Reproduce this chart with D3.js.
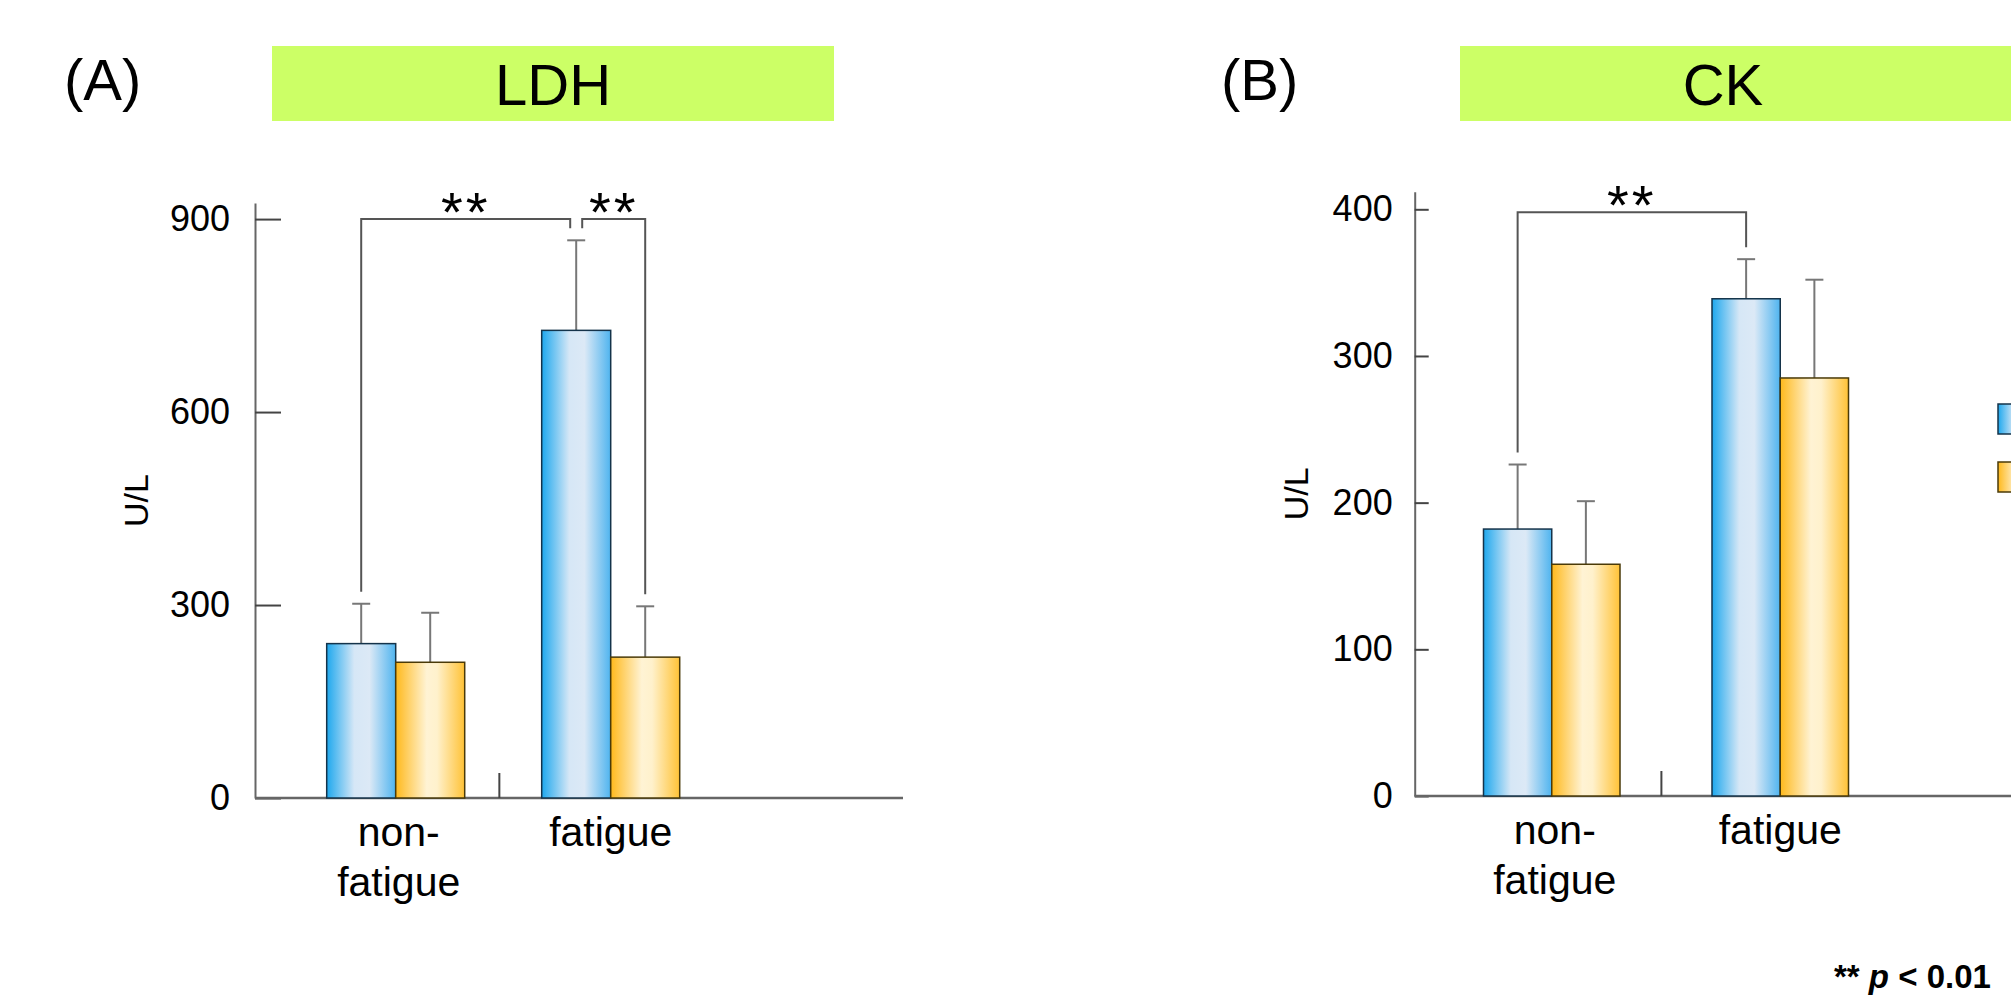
<!DOCTYPE html>
<html>
<head>
<meta charset="utf-8">
<script src="https://cdn.jsdelivr.net/npm/d3@7"></script>
<style>
body { margin: 0; background: #fff; }
svg { display: block; }
text { font-family: "Liberation Sans", Arial, sans-serif; fill: #000; }
</style>
</head>
<body>
<svg id="chart" width="2011" height="998"></svg>
<script>
var categories = ["non-fatigue", "fatigue"];
var categoryLines = [["non-", "fatigue"], ["fatigue"]];
var seriesNames = ["group 1", "group 2"];

// LDH (U/L)
var ldhBlue = [240, 727];
var ldhBlueSd = [62, 140];
var ldhOrange = [211, 219];
var ldhOrangeSd = [77, 79];
var ldhTicks = [0, 300, 600, 900];

// CK (U/L)
var ckBlue = [182, 339];
var ckBlueSd = [44, 27];
var ckOrange = [158, 285];
var ckOrangeSd = [43, 67];
var ckTicks = [0, 100, 200, 300, 400];

// significance brackets: [category index, series index]
var ldhSig = [
    { from: [0, 0], to: [1, 0], level: 900, label: "**" },
    { from: [1, 0], to: [1, 1], level: 900, label: "**" }
];
var ckSig = [
    { from: [0, 0], to: [1, 0], level: 398, label: "**" }
];

var svg = d3.select("#chart");
var defs = svg.append("defs");

function addGradient(id, stops)
{
    var g = defs.append("linearGradient").attr("id", id)
        .attr("x1", "0%").attr("x2", "100%").attr("y1", "0%").attr("y2", "0%");
    stops.forEach(function(s) {
        g.append("stop").attr("offset", s[0]).attr("stop-color", s[1]);
    });
}
addGradient("gBlue", [["0%", "#1ea8ee"], ["40%", "#d6e7f6"], ["62%", "#dce9f6"], ["100%", "#4fb4ef"]]);
addGradient("gOrange", [["0%", "#ffb91c"], ["45%", "#fff3d4"], ["60%", "#fff1cc"], ["100%", "#ffc236"]]);

var fills = ["url(#gBlue)", "url(#gOrange)"];
var strokes = ["#14334a", "#4a3a08"];

function drawPanel(p)
{
    var g = svg.append("g");

    // header
    g.append("text")
        .attr("x", p.letterX).attr("y", 100)
        .style("font-size", "58px")
        .text(p.letter);

    g.append("rect")
        .attr("x", p.boxX).attr("y", 46)
        .attr("width", p.boxW).attr("height", 75)
        .attr("fill", "#ccff66");

    g.append("text")
        .attr("x", p.titleX).attr("y", 105)
        .attr("text-anchor", "middle")
        .style("font-size", "58px")
        .text(p.title);

    // scales
    var y = d3.scaleLinear().domain([0, p.yMax]).range([p.yZero, p.yTop]);
    var x0 = d3.scaleBand()
        .domain(categories)
        .range([p.bandStart, p.bandStart + p.step * 2 - (p.step - p.bandW)])
        .paddingInner(1 - p.bandW / p.step);
    var x1 = d3.scaleBand().domain(seriesNames).range([0, x0.bandwidth()]);

    // y axis
    var yAxis = d3.axisLeft(y)
        .tickValues(p.ticks)
        .tickSize(-p.tickLen)
        .tickSizeOuter(0)
        .tickPadding(p.tickPad);

    var ya = g.append("g")
        .attr("transform", "translate(" + p.axisX + ",0)")
        .call(yAxis);
    ya.select(".domain").attr("stroke", "#666").attr("stroke-width", 2);
    ya.selectAll(".tick line").attr("stroke", "#444").attr("stroke-width", 2);
    ya.selectAll(".tick text")
        .attr("font-family", null)
        .style("font-size", "36px")
        .attr("fill", "#000");

    // x axis line
    g.append("line")
        .attr("x1", p.axisX).attr("x2", p.axisEndX)
        .attr("y1", y(0)).attr("y2", y(0))
        .attr("stroke", "#666").attr("stroke-width", 2.5);

    // separator tick between categories
    var sepX = x0(categories[0]) + x0.bandwidth() + (x0(categories[1]) - x0(categories[0]) - x0.bandwidth()) * 0.45;
    g.append("line")
        .attr("x1", sepX).attr("x2", sepX)
        .attr("y1", y(0)).attr("y2", y(0) - 25)
        .attr("stroke", "#444").attr("stroke-width", 2);

    // y title
    g.append("text")
        .attr("transform", "translate(" + p.yLabelX + "," + (y(0) + y(p.yMax)) / 2 + ") rotate(-90)")
        .attr("text-anchor", "middle")
        .style("font-size", "34px")
        .text("U/L");

    // bars
    var rows = [];
    categories.forEach(function(c, i) {
        p.series.forEach(function(s, j) {
            rows.push({ cat: c, ci: i, sj: j, mean: s.mean[i], sd: s.sd[i] });
        });
    });

    function barCenter(ci, sj)
    {
        return x0(categories[ci]) + x1(seriesNames[sj]) + x1.bandwidth() / 2;
    }

    // error bars
    g.selectAll("line.err")
        .data(rows).enter().append("line")
        .attr("class", "err")
        .attr("x1", function(d) { return barCenter(d.ci, d.sj); })
        .attr("x2", function(d) { return barCenter(d.ci, d.sj); })
        .attr("y1", function(d) { return y(d.mean); })
        .attr("y2", function(d) { return y(d.mean + d.sd); })
        .attr("stroke", "#777").attr("stroke-width", 2);

    g.selectAll("line.cap")
        .data(rows).enter().append("line")
        .attr("class", "cap")
        .attr("x1", function(d) { return barCenter(d.ci, d.sj) - 9; })
        .attr("x2", function(d) { return barCenter(d.ci, d.sj) + 9; })
        .attr("y1", function(d) { return y(d.mean + d.sd); })
        .attr("y2", function(d) { return y(d.mean + d.sd); })
        .attr("stroke", "#777").attr("stroke-width", 2);

    g.selectAll("rect.bar")
        .data(rows).enter().append("rect")
        .attr("class", "bar")
        .attr("x", function(d) { return x0(d.cat) + x1(seriesNames[d.sj]); })
        .attr("y", function(d) { return y(d.mean); })
        .attr("width", x1.bandwidth())
        .attr("height", function(d) { return y(0) - y(d.mean); })
        .attr("fill", function(d) { return fills[d.sj]; })
        .attr("stroke", function(d) { return strokes[d.sj]; })
        .attr("stroke-width", 1.5);

    // category labels
    categoryLines.forEach(function(lines, i) {
        var cx = x0(categories[i]) + x0.bandwidth() / 2 + (lines.length > 1 ? 3 : 0);
        var t = g.append("text")
            .attr("x", cx)
            .attr("y", y(0) + 48)
            .attr("text-anchor", "middle")
            .style("font-size", "41px");
        lines.forEach(function(l, k) {
            t.append("tspan")
                .attr("x", cx)
                .attr("dy", k == 0 ? 0 : 50)
                .text(l);
        });
    });

    // significance brackets
    function topOf(ref)
    {
        var s = p.series[ref[1]];
        return y(s.mean[ref[0]] + s.sd[ref[0]]) - 12;
    }
    p.sig.forEach(function(b, i) {
        var shareFrom = p.sig.some(function(o, k) { return k != i && o.to[0] == b.from[0] && o.to[1] == b.from[1]; });
        var shareTo = p.sig.some(function(o, k) { return k != i && o.from[0] == b.to[0] && o.from[1] == b.to[1]; });
        var xa = barCenter(b.from[0], b.from[1]) + (shareFrom ? 6 : 0);
        var xb = barCenter(b.to[0], b.to[1]) - (shareTo ? 6 : 0);
        var yl = y(b.level);
        g.append("path")
            .attr("d", "M" + xa + "," + topOf(b.from) + "V" + yl + "H" + xb + "V" + topOf(b.to))
            .attr("fill", "none")
            .attr("stroke", "#555").attr("stroke-width", 2);
        g.append("text")
            .attr("x", (xa + xb) / 2).attr("y", yl + 12)
            .attr("text-anchor", "middle")
            .style("font-size", "56px")
            .style("letter-spacing", "3px")
            .text(b.label);
    });

    // legend swatches (labels fall outside the picture)
    if (p.legendX)
    {
        p.series.forEach(function(s, j) {
            g.append("rect")
                .attr("x", p.legendX).attr("y", 404 + j * 58)
                .attr("width", 40).attr("height", 30)
                .attr("fill", fills[j])
                .attr("stroke", strokes[j]).attr("stroke-width", 1.5);
        });
    }
}

drawPanel({
    letter: "(A)", letterX: 64,
    title: "LDH", boxX: 272, boxW: 562, titleX: 553,
    axisX: 255, axisEndX: 903, yTop: 203, yZero: 798, yMax: 925,
    bandStart: 326.7, step: 215, bandW: 138,
    tickLen: 26, tickPad: 25, yLabelX: 148,
    ticks: ldhTicks,
    series: [{ mean: ldhBlue, sd: ldhBlueSd }, { mean: ldhOrange, sd: ldhOrangeSd }],
    sig: ldhSig
});

drawPanel({
    letter: "(B)", letterX: 1221,
    title: "CK", boxX: 1460, boxW: 600, titleX: 1723,
    axisX: 1414.7, axisEndX: 2011, yTop: 191.7, yZero: 796, yMax: 412,
    bandStart: 1483.5, step: 228.5, bandW: 136.5,
    tickLen: 14, tickPad: 22, yLabelX: 1308,
    ticks: ckTicks,
    series: [{ mean: ckBlue, sd: ckBlueSd }, { mean: ckOrange, sd: ckOrangeSd }],
    sig: ckSig,
    legendX: 1998
});

// footnote
var note = svg.append("text")
    .attr("x", 1834).attr("y", 988)
    .style("font-size", "33px")
    .style("font-weight", "bold");
note.append("tspan").text("** ");
note.append("tspan").style("font-style", "italic").text("p");
note.append("tspan").text(" < 0.01");
</script>
</body>
</html>
